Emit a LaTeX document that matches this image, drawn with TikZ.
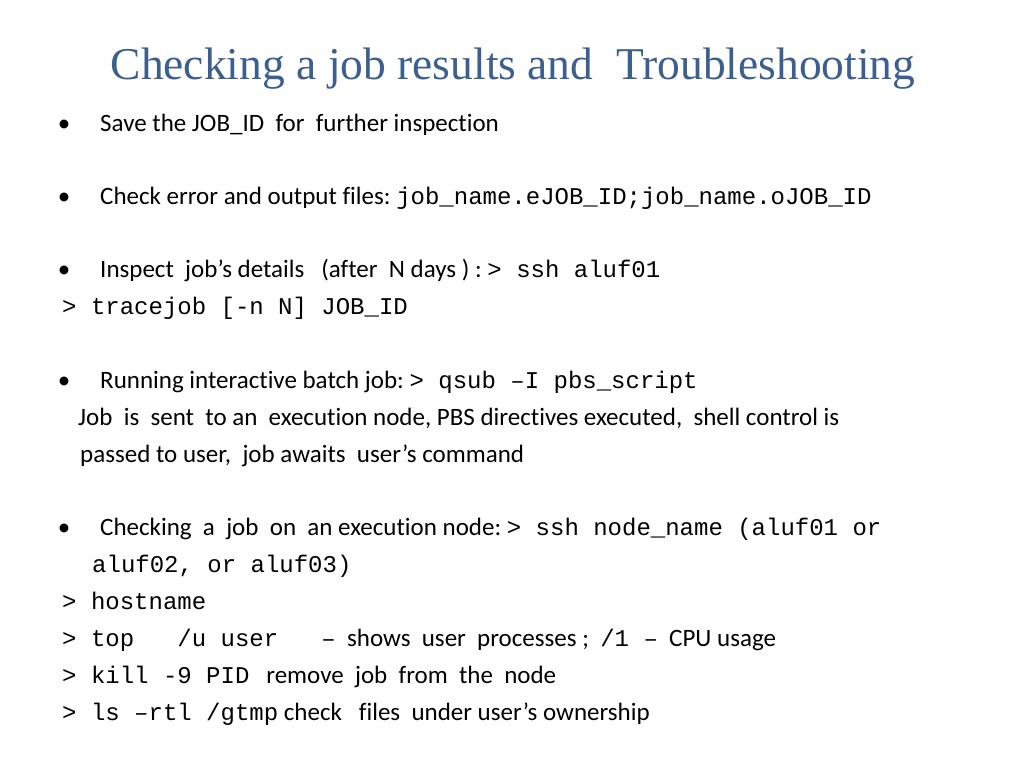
\documentclass[tikz,border=0pt]{standalone}
\usepackage{fontspec}
\setmainfont[RawFeature=-liga]{Carlito}
\setmonofont{Liberation Mono}
\newfontfamily\titlefont{Liberation Serif}
\usetikzlibrary{positioning}
\definecolor{titleblue}{HTML}{3B5F8F}
\newcommand{\cmd}[1]{{\ttfamily\fontsize{24}{28}\selectfont #1}}

\begin{document}
\begin{tikzpicture}[x=1pt,y=-1pt,
    line/.style={anchor=base west,inner sep=0pt,font=\fontsize{25}{29}\selectfont},
    bullet/.style={anchor=base,inner sep=0pt,font=\fontsize{25}{29}\selectfont}]
  \useasboundingbox (0,0) rectangle (1024,768);
  \node[anchor=base,inner sep=0pt,text=titleblue,font=\titlefont\fontsize{45.5}{50}\selectfont] (title) at (513,79) {Checking a job results and\ \ Troubleshooting};

  % bullets
  \foreach \y/\n in {131/b1,204/b2,277/b3,388/b4,535/b5}
    \node[bullet] (\n) at (64,\y) {\textbullet};

  \node[line] (save) at (100,131) {Save the JOB\_ID\ \ for\ \ further inspection};
  \node[line] (check) at (100,204) {Check error and output files:\ \cmd{job\_name.eJOB\_ID;job\_name.oJOB\_ID}};
  \node[line] (inspect) at (100,277) {Inspect\ \ job’s details\ \ \ (after\ \ N days ) :\ \cmd{> ssh aluf01}};
  \node[line] (trace) at (62,314) {\cmd{> tracejob [-n N] JOB\_ID}};

  \node[line] (inter) at (100,388) {Running interactive batch job:\ \cmd{> qsub –I pbs\_script}};
  \node[line] (sent) at (78,425) {Job\ \ is\ \ sent\ \ to an\ \ execution node, PBS directives executed,\ \ shell control is};
  \node[line] (passed) at (80,462) {passed to user,\ \ job awaits\ \ user’s command};

  \node[line] (onnode) at (100,535) {Checking\ \ a\ \ job\ \ on\ \ an execution node:\ \cmd{> ssh node\_name (aluf01 or}};
  \node[line] (aluf) at (92,572) {\cmd{aluf02, or aluf03)}};
  \node[line] (host) at (62,609) {\cmd{> hostname}};
  \node[line] (top) at (62,646) {\cmd{> top\ \ \ /u user\ \ \ –}\ \ shows\ \ user\ \ processes ;\ \ \cmd{/1 –}\ \ CPU usage};
  \node[line] (kill) at (62,683) {\cmd{> kill -9 PID}\ \ \ remove\ \ job\ \ from\ \ the\ \ node};
  \node[line] (ls) at (62,720) {\cmd{> ls –rtl /gtmp}\ check\ \ \ files\ \ under user’s ownership};
\end{tikzpicture}
\end{document}
